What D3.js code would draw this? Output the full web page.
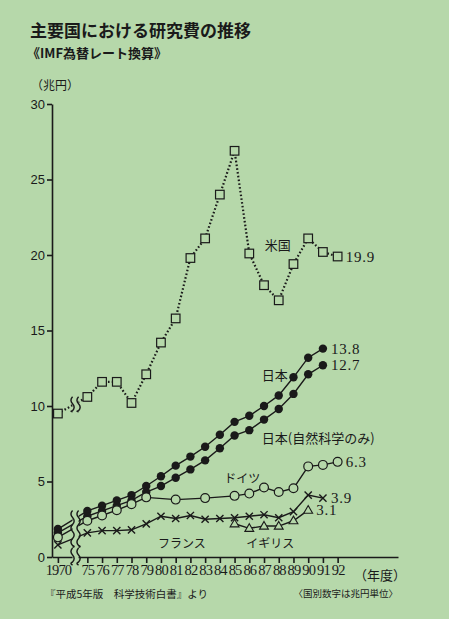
<!DOCTYPE html>
<html>
<head>
<meta charset="utf-8">
<script src="https://cdn.jsdelivr.net/npm/d3@7"></script>
<style>
  html, body { margin: 0; padding: 0; background: #b6d8aa; }
  svg { display: block; }
  .jp { font-family: "Noto Sans CJK JP", sans-serif; fill: #1a1a1a; }
  .num { font-family: "Liberation Serif", serif; fill: #1a1a1a; }
</style>
</head>
<body>
<div id="main"></div>
<script>
// 年度 (1970 と 75 の間は省略)
const years = [1970, 1975, 1976, 1977, 1978, 1979, 1980, 1981, 1982, 1983, 1984, 1985, 1986, 1987, 1988, 1989, 1990, 1991, 1992];
const yearLabels = ["1970", "75", "76", "77", "78", "79", "80", "81", "82", "83", "84", "85", "86", "87", "88", "89", "90", "91", "92"];
const yTicks = [0, 5, 10, 15, 20, 25, 30];

// 兆円
const usa      = [9.5, 10.6, 11.6, 11.6, 10.2, 12.1, 14.2, 15.8, 19.8, 21.1, 24.0, 26.9, 20.1, 18.0, 17.0, 19.4, 21.1, 20.2, 19.9];
const japan    = [1.85, 3.05, 3.4, 3.75, 4.1, 4.7, 5.35, 6.05, 6.65, 7.3, 8.1, 8.95, 9.35, 10.0, 10.7, 11.9, 13.2, 13.8, null];
const japanNat = [1.6, 2.7, 3.05, 3.4, 3.75, 4.3, 4.7, 5.25, 5.8, 6.4, 7.2, 8.05, 8.4, 9.1, 9.8, 10.8, 12.1, 12.7, null];
const germany  = [1.3, 2.4, 2.75, 3.1, 3.5, 3.95, null, 3.8, null, 3.9, null, 4.05, 4.2, 4.6, 4.3, 4.55, 6.0, 6.1, 6.3];
const france   = [0.8, 1.6, 1.75, 1.75, 1.8, 2.2, 2.7, 2.55, 2.75, 2.5, 2.55, 2.6, 2.7, 2.8, 2.6, 3.0, 4.1, 3.9, null];
const uk       = [null, null, null, null, null, null, null, null, null, null, null, 2.2, 1.9, 2.05, 2.05, 2.4, 3.1, null, null];

const W = 449, H = 619;
const BG = "#b6d8aa";
const INK = "#1a1a1a";

const svg = d3.select("#main").append("svg")
  .attr("width", W).attr("height", H);

svg.append("rect").attr("width", W).attr("height", H).attr("fill", BG);

// index position: 1970 -> 0, 1975 -> 2, ... (two slots for the gap)
const pos = yr => yr === 1970 ? 0 : yr - 1973;

const x = d3.scaleLinear().domain([-0.4, 23.1]).range([52, 398]);
const y = d3.scaleLinear().domain([0, 30]).range([557, 104]);

// titles
svg.append("text").attr("class", "jp")
  .attr("x", 30).attr("y", 37)
  .attr("font-size", 17).attr("font-weight", 700)
  .text("主要国における研究費の推移");
svg.append("text").attr("class", "jp")
  .attr("x", 27).attr("y", 58)
  .attr("font-size", 13).attr("font-weight", 700)
  .text("《IMF為替レート換算》");
svg.append("text").attr("class", "jp")
  .attr("x", 31).attr("y", 90)
  .attr("font-size", 12)
  .text("（兆円）");

// axes
const yAxis = d3.axisLeft(y).tickValues(yTicks).tickSize(5).tickSizeOuter(0).tickPadding(2);
const gy = svg.append("g").attr("transform", `translate(${x(-0.4)},0)`).call(yAxis);
gy.selectAll("text").attr("font-family", "Liberation Sans, sans-serif").attr("font-size", 13).attr("fill", INK);
gy.selectAll("line, path").attr("stroke", INK).attr("stroke-width", 1.6);

const xAxis = d3.axisBottom(x)
  .tickValues(years.map(pos))
  .tickFormat((d, i) => yearLabels[i])
  .tickSize(6).tickSizeOuter(0).tickPadding(2);
const gx = svg.append("g").attr("transform", `translate(0,${y(0)})`).call(xAxis);
gx.selectAll("text").attr("font-family", "Liberation Serif, serif").attr("font-size", 14.5)
  .attr("fill", INK).attr("letter-spacing", -0.9);
gx.selectAll("line, path").attr("stroke", INK).attr("stroke-width", 1.6);

svg.append("text").attr("class", "jp")
  .attr("x", 354).attr("y", y(0) + 17)
  .attr("dominant-baseline", "central")
  .attr("font-size", 13)
  .text("（年度）");

// lines
const toPts = arr => years.map((yr, i) => ({ p: pos(yr), v: arr[i] })).filter(d => d.v != null);
const line = d3.line().x(d => x(d.p)).y(d => y(d.v));

function drawLine(arr, dash) {
  svg.append("path")
    .datum(toPts(arr))
    .attr("fill", "none")
    .attr("stroke", INK)
    .attr("stroke-width", dash ? 2.2 : 1.4)
    .attr("stroke-dasharray", dash || null)
    .attr("d", line);
}

drawLine(usa, "1.6,2.2");
drawLine(japan);
drawLine(japanNat);
drawLine(germany);
drawLine(france);
drawLine(uk);

// break marks (省略記号)
function wavePath(cx, y0, y1, amp) {
  const p = d3.path();
  const h = 7;
  p.moveTo(cx, y0);
  let k = 0;
  for (let yy = y0; yy < y1 - 0.1; yy += h, k++) {
    const yn = Math.min(yy + h, y1);
    p.quadraticCurveTo(cx + (k % 2 ? amp : -amp), (yy + yn) / 2, cx, yn);
  }
  return p.toString();
}
function breakMark(cx, y0, y1) {
  svg.append("rect")
    .attr("x", cx - 3).attr("y", y0).attr("width", 6).attr("height", y1 - y0)
    .attr("fill", BG);
  [-3, 3].forEach(off => {
    svg.append("path")
      .attr("d", wavePath(cx + off, y0, y1, 3.2))
      .attr("fill", "none").attr("stroke", INK).attr("stroke-width", 1.4);
  });
}
const bx = x(1.2);
breakMark(bx, y(10.15) - 7, y(10.15) + 8);
breakMark(bx, y(2.55) - 8, y(1.3) + 10);
breakMark(bx, y(0) - 9, y(0) + 8);

// markers
function pts(arr) { return toPts(arr); }

svg.append("g").selectAll("rect")
  .data(pts(usa)).join("rect")
  .attr("x", d => x(d.p) - 4.3).attr("y", d => y(d.v) - 4.3)
  .attr("width", 8.6).attr("height", 8.6)
  .attr("fill", BG).attr("stroke", INK).attr("stroke-width", 1.2);

[japan, japanNat].forEach(arr => {
  svg.append("g").selectAll("circle")
    .data(pts(arr)).join("circle")
    .attr("cx", d => x(d.p)).attr("cy", d => y(d.v)).attr("r", 4.2)
    .attr("fill", INK);
});

svg.append("g").selectAll("circle")
  .data(pts(germany)).join("circle")
  .attr("cx", d => x(d.p)).attr("cy", d => y(d.v)).attr("r", 4.4)
  .attr("fill", BG).attr("stroke", INK).attr("stroke-width", 1.2);

svg.append("g").selectAll("path")
  .data(pts(france)).join("path")
  .attr("d", d => {
    const cx = x(d.p), cy = y(d.v), s = 3.6;
    return `M${cx - s},${cy - s}L${cx + s},${cy + s}M${cx - s},${cy + s}L${cx + s},${cy - s}`;
  })
  .attr("stroke", INK).attr("stroke-width", 1.4);

svg.append("g").selectAll("path")
  .data(pts(uk)).join("path")
  .attr("d", d3.symbol().type(d3.symbolTriangle).size(34))
  .attr("transform", d => `translate(${x(d.p)},${y(d.v) + 0.5})`)
  .attr("fill", BG).attr("stroke", INK).attr("stroke-width", 1.1);

// end values
const endLabels = [
  { arr: usa, i: 18, t: "19.9", dx: 8 },
  { arr: japan, i: 17, t: "13.8", dx: 8 },
  { arr: japanNat, i: 17, t: "12.7", dx: 8 },
  { arr: germany, i: 18, t: "6.3", dx: 8 },
  { arr: france, i: 17, t: "3.9", dx: 8 },
  { arr: uk, i: 16, t: "3.1", dx: 8 }
];
endLabels.forEach(l => {
  svg.append("text").attr("class", "num")
    .attr("x", x(pos(years[l.i])) + l.dx)
    .attr("y", y(l.arr[l.i]))
    .attr("dominant-baseline", "central")
    .attr("font-size", 15).attr("letter-spacing", 0.8)
    .text(l.t);
});

// series names (anchored in data units)
const names = [
  { t: "米国", p: 14.05, v: 20.7, size: 13 },
  { t: "日本", p: 13.85, v: 12.1, size: 13 },
  { t: "日本(自然科学のみ)", p: 13.85, v: 7.9, size: 13 },
  { t: "ドイツ", p: 11.3, v: 5.25, size: 12 },
  { t: "フランス", p: 6.8, v: 0.95, size: 12 },
  { t: "イギリス", p: 12.8, v: 0.95, size: 12 }
];
names.forEach(n => {
  svg.append("text").attr("class", "jp")
    .attr("x", x(n.p)).attr("y", y(n.v))
    .attr("dominant-baseline", "central")
    .attr("font-size", n.size)
    .text(n.t);
});

// footnotes
svg.append("text").attr("class", "jp")
  .attr("x", 45).attr("y", 593)
  .attr("dominant-baseline", "central")
  .attr("font-size", 10.5)
  .text("『平成5年版　科学技術白書』より");
svg.append("text").attr("class", "jp")
  .attr("x", 398).attr("y", 593)
  .attr("text-anchor", "end")
  .attr("dominant-baseline", "central")
  .attr("font-size", 9.5)
  .text("〈国別数字は兆円単位〉");
</script>
</body>
</html>
